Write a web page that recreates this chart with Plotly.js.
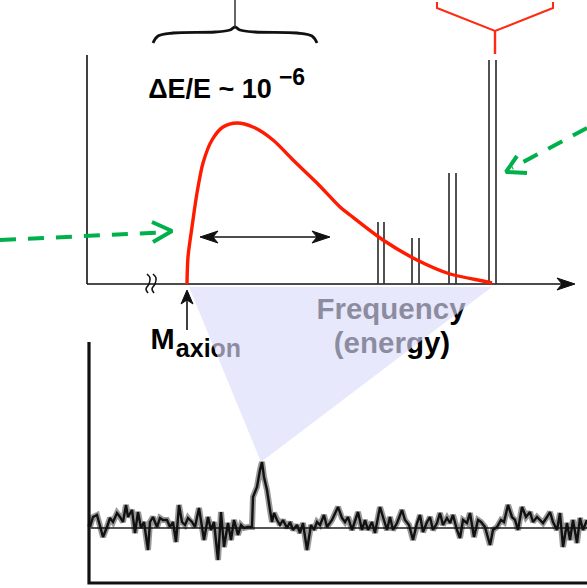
<!DOCTYPE html>
<html><head><meta charset="utf-8">
<script src="https://cdn.plot.ly/plotly-3.0.1.min.js"></script>
<style>html,body{margin:0;padding:0;background:#fff}#c{width:587px;height:588px}</style>
</head><body><div id="c"></div>
<script>
// ---- data (diagram coordinates) ----
const curveX = [187,188,192,197,203,212,223,237,253,273,293,317,340,350,383,417,450,483,492];
const curveY = [284,257,227,193,163,140,127,123,127,140,160,183,207,215,240,260,274,281,283];
const lineX   = [378,384,412,419,449,456,489,496];
const lineTop = [222,222,238,238,173,173,60,60];
const axisBaseY = 284;
const noiseX = [90,93,97,100,103,107,110,113,117,120,123,126,128,132,135,138,141,144,148,150,153,157,160,163,167,170,173,176,179,182,185,188,192,195,199,202,204,208,211,214,218,221,224,228,231,234,238,241,244,248,252,253,257,260,262,264,267,270,272,274,277,280,283,287,290,293,297,300,303,307,311,314,317,320,324,327,332,338,342,345,348,352,355,358,362,365,368,372,375,380,383,387,390,393,397,402,405,409,413,417,420,423,427,430,433,437,440,443,447,450,453,457,460,463,467,470,474,478,481,485,490,493,497,501,504,508,512,515,518,522,526,530,533,537,540,543,547,550,553,557,560,563,567,570,573,577,580,583,587];
const noiseY = [527,517,515,525,537,527,518,522,513,517,522,505,517,510,533,512,528,522,550,522,517,527,518,520,520,527,522,542,505,522,525,518,522,527,508,527,540,517,530,522,560,512,547,523,540,520,535,525,528,527,527,497,487,470,462,477,490,510,522,513,520,525,520,528,522,530,525,533,523,550,525,530,522,525,515,527,520,507,518,522,517,530,522,512,530,520,530,522,533,507,517,530,517,530,523,510,520,525,540,523,515,532,522,517,530,523,513,525,518,523,515,530,538,520,523,513,537,520,522,527,545,530,527,520,522,505,517,520,530,507,517,512,522,517,520,523,517,512,522,530,513,547,523,540,520,543,518,530,520];
const braceX = [153,158,173,215,230,235,240,255,297,312,317];
const braceY = [43,36,33,32,30,27,30,32,33,36,43];
const redForkX = [437,437,495,553,553];
const redForkY = [2,8,31,8,2];
const redStemX = [495,495];
const redStemY = [31,54];
const greenLX = [0,160], greenLY = [240,232.5];
const greenLHeadX = [152,172,153], greenLHeadY = [222,231,242];
const greenRX = [587,512], greenRY = [128,168];
const greenRHeadX = [517,506,527], greenRHeadY = [156,172,173];
const triX = [189,492,261], triY = [287,287,462];

const tr = [];
const blk = '#111';
// top axes
tr.push({x:[87,87,null,87,562], y:[55,axisBaseY,null,axisBaseY,axisBaseY], mode:'lines', line:{color:blk,width:1.6}});
// axis arrow head
tr.push({x:[557,575,557,562,557], y:[278,284,290,284,278], mode:'lines', fill:'toself', fillcolor:blk, line:{color:blk,width:1}});
// axis break squiggles
tr.push({x:[147,150,149,146,148,null,153,156,155,152,154], y:[274,278,284,289,293,null,274,278,284,289,293], mode:'lines', line:{color:blk,width:1.6,shape:'spline'}});
// emission line pairs
const lx=[], ly=[];
lineX.forEach((v,i)=>{lx.push(v,v,null); ly.push(axisBaseY,lineTop[i],null);});
tr.push({x:lx, y:ly, mode:'lines', line:{color:'#333',width:1.7}});
// red curve
tr.push({x:curveX, y:curveY, mode:'lines', line:{color:'#ff1a00',width:3.4,shape:'spline',smoothing:0.8}});
// brace
tr.push({x:braceX, y:braceY, mode:'lines', line:{color:blk,width:2.8,shape:'spline'}});
tr.push({x:[235,235], y:[27,0], mode:'lines', line:{color:'#333',width:1.5}});
// red fork
tr.push({x:redForkX, y:redForkY, mode:'lines', line:{color:'#ff2a10',width:2}});
tr.push({x:redStemX, y:redStemY, mode:'lines', line:{color:'#ff2a10',width:2.4}});
// double arrow
tr.push({x:[212,318], y:[237,237], mode:'lines', line:{color:blk,width:1.6}});
tr.push({x:[200,218,213,218,200], y:[237,231,237,243,237], mode:'lines', fill:'toself', fillcolor:blk, line:{color:blk,width:1}});
tr.push({x:[330,312,317,312,330], y:[237,231,237,243,237], mode:'lines', fill:'toself', fillcolor:blk, line:{color:blk,width:1}});
// Maxion up arrow
tr.push({x:[187,187], y:[298,330], mode:'lines', line:{color:blk,width:1.6}});
tr.push({x:[187,181,187,193,187], y:[290,304,300,304,290], mode:'lines', fill:'toself', fillcolor:blk, line:{color:blk,width:1}});
// green dashed arrows
const g = '#00b04a';
tr.push({x:greenLX, y:greenLY, mode:'lines', line:{color:g,width:4,dash:'16px,12px'}});
tr.push({x:greenLHeadX, y:greenLHeadY, mode:'lines', line:{color:g,width:4}});
tr.push({x:greenRX, y:greenRY, mode:'lines', line:{color:g,width:4,dash:'16px,12px'}});
tr.push({x:greenRHeadX, y:greenRHeadY, mode:'lines', line:{color:g,width:4}});
// lower panel frame
tr.push({x:[89,89,587], y:[342,583,583], mode:'lines', line:{color:blk,width:3.2}});
// noise baseline + noise
tr.push({x:[90,587], y:[528,528], mode:'lines', line:{color:'#555',width:2}});
tr.push({x:noiseX, y:noiseY, mode:'lines', line:{color:'rgba(0,0,0,0.4)',width:6}});
tr.push({x:noiseX, y:noiseY, mode:'lines', line:{color:'#111',width:2.4}});
// texts
const tf = (s)=>({family:'Liberation Sans, Arial, sans-serif', size:s, color:'#000', weight:'bold'});
tr.push({x:[210], y:[91], mode:'text', text:['ΔE/E\u00a0~\u00a010'], textposition:'middle center', textfont:tf(27)});
tr.push({x:[292], y:[79], mode:'text', text:['−6'], textposition:'middle center', textfont:tf(23)});
tr.push({x:[162.5], y:[342], mode:'text', text:['M'], textposition:'middle center', textfont:tf(29)});
tr.push({x:[208.5], y:[351], mode:'text', text:['axion'], textposition:'middle center', textfont:tf(25)});
tr.push({x:[391], y:[312], mode:'text', text:['Frequency'], textposition:'middle center', textfont:tf(29.5)});
tr.push({x:[392], y:[346], mode:'text', text:['(energy)'], textposition:'middle center', textfont:tf(29.5)});

const triPath = 'M '+triX.map((v,i)=>v+' '+triY[i]).join(' L ')+' Z';
const layout = {
  width:587, height:588, margin:{l:0,r:0,t:0,b:0},
  paper_bgcolor:'#fff', plot_bgcolor:'#fff', showlegend:false,
  xaxis:{range:[0,587], visible:false, fixedrange:true},
  yaxis:{range:[588,0], visible:false, fixedrange:true},
  shapes:[{type:'path', path:triPath, xref:'x', yref:'y', layer:'above',
    fillcolor:'rgb(219,219,250)', opacity:0.64, line:{width:0}}]
};
tr.forEach(t=>{t.hoverinfo='skip'; t.cliponaxis=false;});
Plotly.newPlot('c', tr, layout, {staticPlot:true, displayModeBar:false});
</script></body></html>
